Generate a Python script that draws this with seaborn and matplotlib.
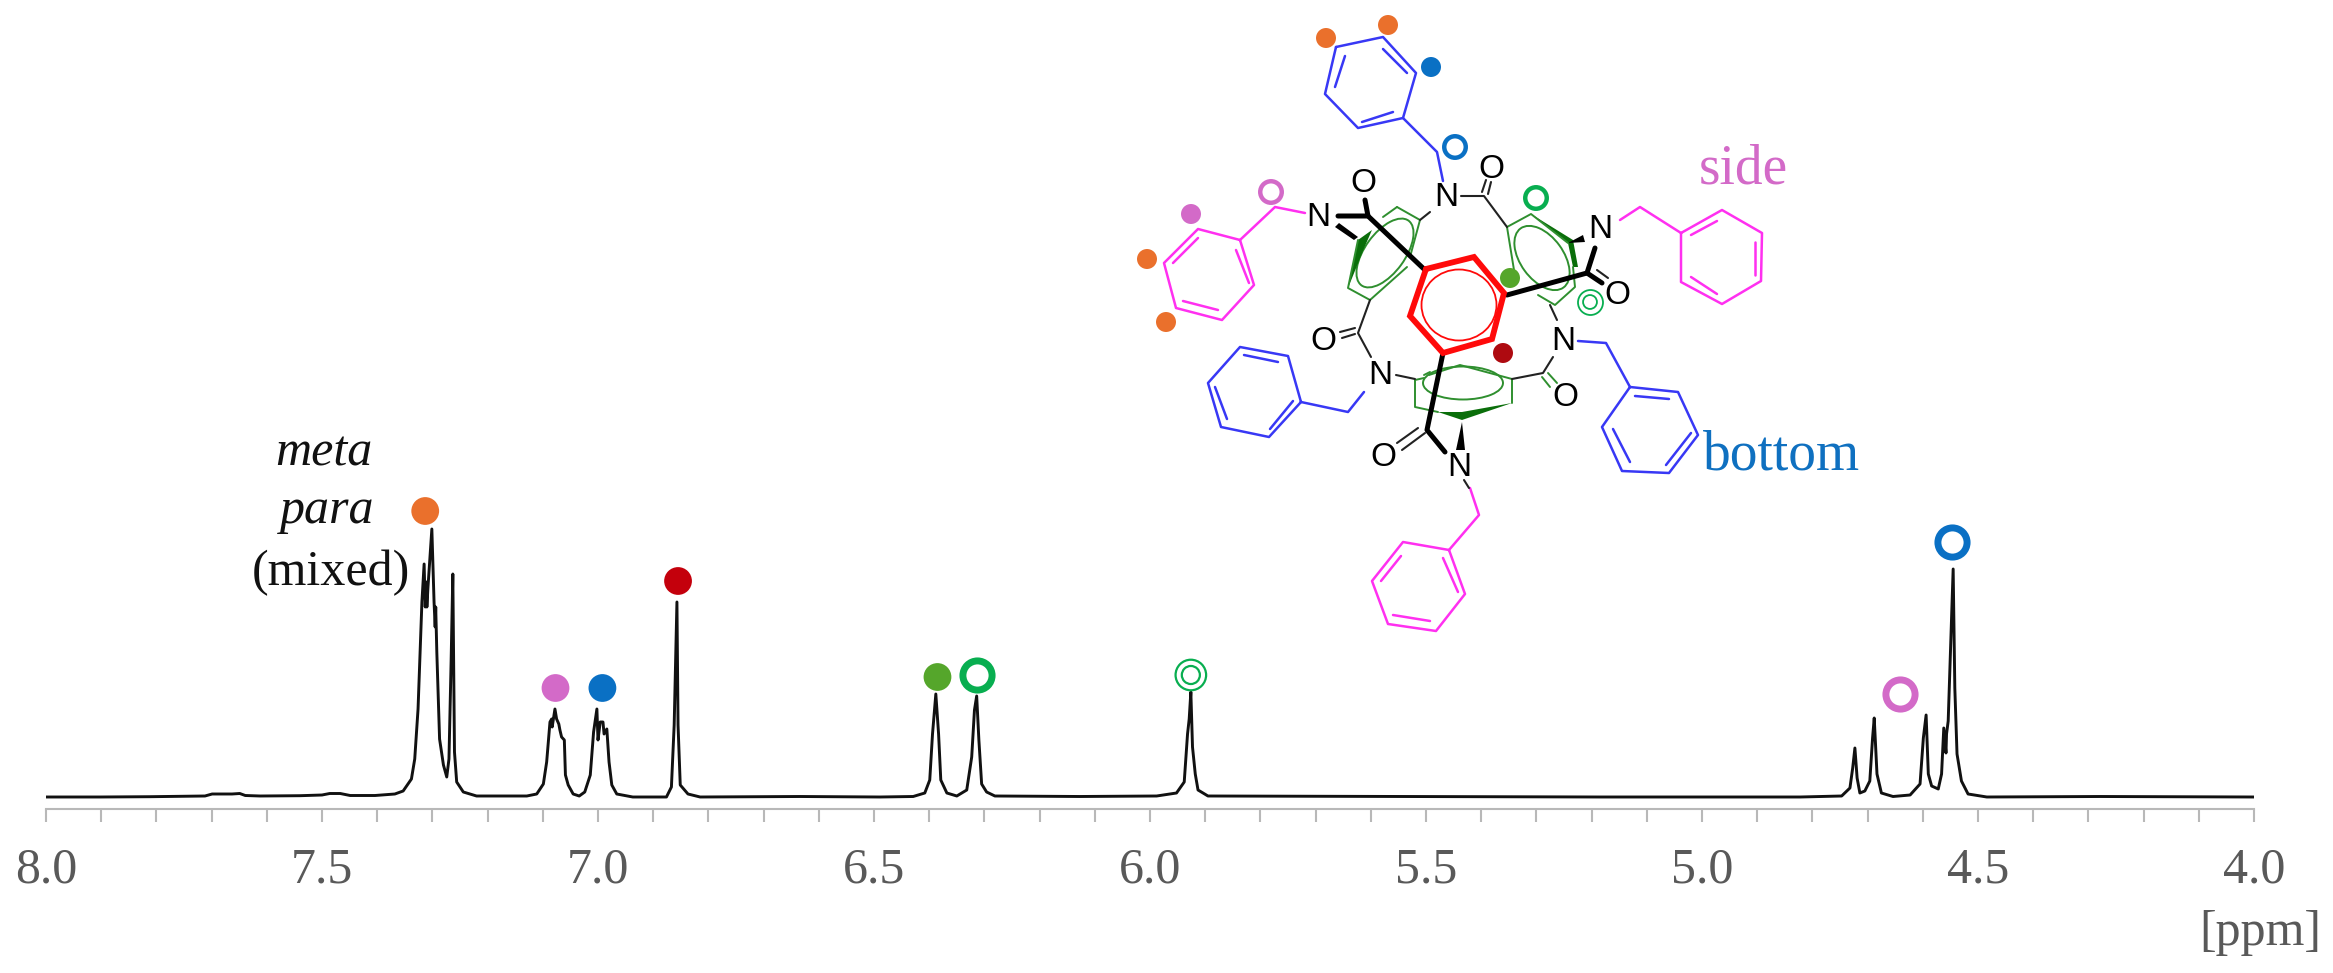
import matplotlib
matplotlib.use('Agg')
import matplotlib.pyplot as plt
from matplotlib.patches import Ellipse, Polygon
import pandas as pd
import seaborn as sns

# spectrum trace
ppm = [8.000, 7.902, 7.812, 7.712, 7.699, 7.681, 7.663, 7.649, 7.639, 7.612, 7.540, 7.500, 7.486, 7.467,
       7.449, 7.404, 7.368, 7.353, 7.338, 7.332, 7.326, 7.319, 7.315, 7.313, 7.311, 7.310, 7.308, 7.301,
       7.297, 7.295, 7.294, 7.292, 7.287, 7.280, 7.274, 7.270, 7.266, 7.263, 7.260, 7.256, 7.244, 7.220,
       7.129, 7.111, 7.099, 7.093, 7.087, 7.084, 7.083, 7.078, 7.075, 7.071, 7.069, 7.066, 7.061, 7.059,
       7.054, 7.045, 7.034, 7.024, 7.014, 7.008, 7.002, 7.000, 6.996, 6.991, 6.989, 6.984, 6.980, 6.975,
       6.966, 6.937, 6.876, 6.867, 6.862, 6.857, 6.855, 6.851, 6.837, 6.815, 6.634, 6.489, 6.429, 6.408,
       6.399, 6.394, 6.388, 6.383, 6.379, 6.368, 6.350, 6.332, 6.323, 6.318, 6.314, 6.310, 6.305, 6.296,
       6.281, 6.127, 5.988, 5.952, 5.938, 5.932, 5.929, 5.926, 5.923, 5.918, 5.913, 5.895, 5.547, 5.185,
       4.822, 4.747, 4.732, 4.727, 4.723, 4.719, 4.714, 4.705, 4.696, 4.691, 4.688, 4.683, 4.675, 4.654,
       4.623, 4.605, 4.599, 4.594, 4.590, 4.584, 4.572, 4.566, 4.562, 4.558, 4.557, 4.554, 4.545, 4.542,
       4.538, 4.530, 4.518, 4.484, 4.279, 4.000]
intensity = [0, 0, 0.3, 1, 3, 3, 3, 3.5, 1.5, 1, 1.3, 2, 3.5, 3.5,
             1.5, 1.5, 3, 6, 18, 38, 88, 195, 233, 190, 215, 190, 210, 268,
             195, 170, 190, 145, 58, 32, 20, 38, 138, 223, 45, 15, 5, 1,
             1, 3, 13, 35, 75, 78, 70, 88, 78, 73, 67, 60, 57, 22,
             12, 3, 1, 5, 22, 65, 88, 57, 75, 75, 63, 68, 35, 12,
             3, 0, 0, 10, 72, 195, 72, 12, 3, 0, 0.5, 0, 0.5, 4,
             17, 63, 103, 63, 17, 4, 1, 7, 40, 87, 101, 57, 13, 5,
             1, 0.5, 1, 4, 15, 63, 78, 105, 50, 23, 7, 1, 0.5, 0,
             0, 1, 9, 29, 49, 19, 4, 6, 16, 59, 79, 23, 4, 0.5,
             2, 13, 59, 82, 23, 11, 8, 23, 69, 44, 63, 76, 228, 109,
             43, 16, 3, 0, 0.5, 0]

major_ticks = [8.0, 7.5, 7.0, 6.5, 6.0, 5.5, 5.0, 4.5, 4.0]
major_labels = ['8.0', '7.5', '7.0', '6.5', '6.0', '5.5', '5.0', '4.5', '4.0']
minor_ticks = [7.9, 7.8, 7.7, 7.6, 7.4, 7.3, 7.2, 7.1, 6.9, 6.8, 6.7, 6.6, 6.4, 6.3, 6.2, 6.1,
               5.9, 5.8, 5.7, 5.6, 5.4, 5.3, 5.2, 5.1, 4.9, 4.8, 4.7, 4.6, 4.4, 4.3, 4.2, 4.1]

# peak assignment symbols above the spectrum
dot_ppm = [7.313, 7.077, 6.992, 6.855, 6.385]
dot_height = [286, 109, 109, 216, 120]
dot_color = ['#EA702C', '#D36AC8', '#0A70C4', '#C4000C', '#55A62B']
ring_ppm = [6.314, 4.642, 4.547]
ring_height = [122, 103, 255]
ring_color = ['#08AE50', '#D36AC8', '#0A70C4']
double_ppm = [5.926]
double_height = [122]

# molecule drawing, in picture pixels
blue_bonds = [
    # top benzyl
    [(1403, 118), (1437, 152), (1443, 181)],
    [(1336, 47), (1383, 37), (1416, 73), (1403, 118), (1358, 128), (1325, 94), (1336, 47)],
    [(1345, 56), (1335, 87)], [(1383, 49), (1407, 73)], [(1362, 122), (1393, 112)],
    # lower right benzyl
    [(1578, 341), (1606, 343), (1630, 387)],
    [(1630, 387), (1678, 392), (1698, 435), (1669, 473), (1622, 471), (1602, 427), (1630, 387)],
    [(1635, 396), (1669, 399)], [(1691, 433), (1666, 465)], [(1630, 462), (1613, 429)],
    # lower left benzyl
    [(1364, 392), (1348, 412), (1301, 402)],
    [(1301, 402), (1269, 437), (1221, 427), (1208, 383), (1240, 347), (1288, 356), (1301, 402)],
    [(1293, 401), (1270, 429)], [(1227, 419), (1215, 387)], [(1244, 355), (1278, 362)],
]
pink_bonds = [
    # right benzyl
    [(1620, 220), (1640, 207), (1681, 233)],
    [(1681, 233), (1722, 210), (1762, 233), (1761, 281), (1722, 304), (1681, 282), (1681, 233)],
    [(1691, 235), (1717, 221)], [(1755, 242), (1755, 275)], [(1691, 277), (1717, 294)],
    # bottom benzyl
    [(1470, 488), (1479, 515), (1449, 550)],
    [(1449, 550), (1403, 542), (1372, 581), (1388, 624), (1436, 631), (1465, 594), (1449, 550)],
    [(1443, 558), (1458, 592)], [(1430, 621), (1393, 615)], [(1381, 581), (1401, 556)],
    # left benzyl
    [(1305, 213), (1275, 207), (1240, 240)],
    [(1240, 240), (1198, 229), (1164, 263), (1176, 308), (1222, 320), (1254, 285), (1240, 240)],
    [(1198, 238), (1173, 263)], [(1183, 301), (1218, 310)], [(1236, 250), (1249, 283)],
]
green_bonds = [
    # upper right ring
    [(1507, 227), (1531, 214), (1568, 243)], [(1507, 227), (1514, 270)],
    [(1573, 267), (1575, 287), (1555, 305), (1538, 295)],
    # lower ring
    [(1429, 375), (1460, 365), (1512, 379), (1512, 403)], [(1415, 380), (1415, 407), (1438, 412)],
    [(1415, 380), (1424, 378)], [(1424, 375), (1430, 372)],
    # upper left ring
    [(1370, 300), (1348, 288), (1358, 240)], [(1370, 300), (1407, 267)],
    [(1397, 207), (1420, 220), (1410, 257)], [(1397, 207), (1383, 217)],
    # carbonyl by the lower ring
    [(1542, 377), (1550, 387)], [(1548, 373), (1557, 383)],
]
black_bonds = [
    [(1461, 196), (1484, 196), (1507, 227)], [(1482, 192), (1486, 180)], [(1488, 194), (1491, 182)],
    [(1550, 305), (1557, 320)], [(1553, 357), (1543, 373), (1512, 379)],
    [(1396, 375), (1415, 379)], [(1371, 357), (1358, 333), (1370, 300)],
    [(1340, 332), (1355, 328)], [(1342, 338), (1355, 334)],
    [(1420, 220), (1430, 212)], [(1597, 270), (1608, 278)],
    [(1425, 433), (1402, 450)], [(1418, 428), (1397, 443)],
    [(1469, 488), (1464, 480)],
]
bold_bonds = [
    [(1425, 270), (1368, 216), (1338, 216)], [(1365, 200), (1368, 216)],
    [(1507, 295), (1587, 273), (1595, 248)], [(1587, 273), (1602, 283)],
    [(1443, 353), (1427, 430), (1445, 452)],
]
black_wedges = [
    [(1335, 227), (1339, 223), (1358, 237), (1354, 240)],
    [(1568, 243), (1583, 235), (1585, 242)],
    [(1462, 422), (1456, 450), (1465, 450)],
]
green_wedges = [
    [(1348, 288), (1358, 240), (1372, 230), (1365, 246)],
    [(1531, 214), (1568, 243), (1573, 267), (1578, 267), (1573, 240)],
    [(1438, 412), (1462, 420), (1512, 403), (1462, 412)],
]
red_ring = [(1426, 269), (1474, 257), (1504, 293), (1492, 339), (1443, 353), (1410, 316), (1426, 269)]

# centre x, centre y, width, height, angle
green_loops = [(1542, 258, 73, 43, 54), (1463, 383, 80, 33, 0), (1385, 253, 80, 40, -54)]
red_loop = (1459, 305, 75, 71, 0)

nitrogen_x = [1446, 1600, 1563, 1459, 1380, 1318]
nitrogen_y = [198, 230, 341, 467, 376, 218]
oxygen_x = [1491, 1617, 1565, 1383, 1323, 1363]
oxygen_y = [169, 296, 398, 457, 342, 183]

mol_dot_x = [1326, 1388, 1147, 1166, 1431, 1191, 1510, 1503]
mol_dot_y = [38, 25, 259, 322, 67, 214, 278, 353]
mol_dot_color = ['#EA702C', '#EA702C', '#EA702C', '#EA702C', '#0A70C4', '#D36AC8', '#55A62B', '#AE0A10']
mol_ring_x = [1455, 1271, 1536]
mol_ring_y = [147, 192, 198]
mol_ring_color = ['#0A70C4', '#D36AC8', '#08AE50']

sns.set_style('white')
plt.rcParams['font.family'] = ['Liberation Serif', 'DejaVu Serif']

fig = plt.figure(figsize=(23.33, 9.73), dpi=100)
ax = fig.add_axes([46 / 2333, (973 - 809) / 973, (2254 - 46) / 2333, 809 / 973])

spectrum = pd.DataFrame({'ppm': ppm, 'intensity': intensity})
sns.lineplot(data=spectrum, x='ppm', y='intensity', estimator=None, sort=False,
             color='#111111', linewidth=2.1, ax=ax)

dots = pd.DataFrame({'ppm': dot_ppm, 'h': dot_height, 'c': dot_color})
sns.scatterplot(data=dots, x='ppm', y='h', hue='c', palette=dict(zip(dot_color, dot_color)),
                s=400, linewidth=0, legend=False, ax=ax, zorder=3)
rings = pd.DataFrame({'ppm': ring_ppm, 'h': ring_height, 'c': ring_color})
for c, group in rings.groupby('c'):
    sns.scatterplot(data=group, x='ppm', y='h', s=441, facecolor='white', edgecolor=c,
                    linewidth=5, legend=False, ax=ax, zorder=3)
for size in [484, 169]:
    sns.scatterplot(x=double_ppm, y=double_height, s=size, facecolor='none', edgecolor='#08AE50',
                    linewidth=1.6, legend=False, ax=ax, zorder=3)

ax.set_xlim(8.0, 4.0)
ax.set_ylim(-12, 797)
ax.set_xticks(major_ticks)
ax.set_xticklabels(major_labels)
ax.set_xticks(minor_ticks, minor=True)
ax.set_yticks([])
ax.set_xlabel('')
ax.set_ylabel('')
sns.despine(ax=ax, left=True)
ax.spines['bottom'].set_color('#b8b8b8')
ax.spines['bottom'].set_linewidth(1.5)
ax.tick_params(axis='x', which='both', direction='out', bottom=True, length=9.4, width=1.5,
               color='#b8b8b8')
ax.tick_params(axis='x', which='major', labelsize=36, labelcolor='#595959', pad=18)
ax.patch.set_alpha(0)

# overlay for the molecule and the free text, in picture pixels
mol = fig.add_axes([0, 0, 1, 1], zorder=5)
mol.set_xlim(0, 2333)
mol.set_ylim(973, 0)
mol.axis('off')


def draw_bonds(bonds, color, width):
    for bond in bonds:
        mol.plot([p[0] for p in bond], [p[1] for p in bond], color=color, lw=width,
                 solid_capstyle='round', solid_joinstyle='round')


draw_bonds(blue_bonds, '#3838F5', 1.8)
draw_bonds(pink_bonds, '#FF30F0', 1.8)
draw_bonds(green_bonds, '#2F8F2F', 1.4)
draw_bonds(black_bonds, '#222222', 1.5)

for cx, cy, w, h, angle in green_loops:
    mol.add_patch(Ellipse((cx, cy), w, h, angle=angle, fill=False, edgecolor='#2F8F2F', lw=1.4))
for wedge in green_wedges:
    mol.add_patch(Polygon(wedge, closed=True, color='#0A6E0A', lw=0))

draw_bonds(bold_bonds, '#000000', 3.6)
for wedge in black_wedges:
    mol.add_patch(Polygon(wedge, closed=True, color='#000000', lw=0))

mol.plot([p[0] for p in red_ring], [p[1] for p in red_ring], color='#FF0A0A', lw=4.2,
         solid_joinstyle='miter')
mol.add_patch(Ellipse(red_loop[:2], red_loop[2], red_loop[3], angle=red_loop[4], fill=False,
                      edgecolor='#FF0A0A', lw=1.3))

for x, y in zip(nitrogen_x, nitrogen_y):
    mol.text(x, y, 'N', fontsize=24, family='Liberation Sans', color='black', ha='center', va='center')
for x, y in zip(oxygen_x, oxygen_y):
    mol.text(x, y, 'O', fontsize=24, family='Liberation Sans', color='black', ha='center', va='center')

mol.scatter(mol_dot_x, mol_dot_y, s=207, c=mol_dot_color, linewidths=0, zorder=4)
mol.scatter(mol_ring_x, mol_ring_y, s=240, facecolors='white', edgecolors=mol_ring_color, linewidths=3.2, zorder=4)
mol.scatter([1590], [302], s=324, facecolors='white', edgecolors='#08AE50', linewidths=1.3, zorder=4)
mol.scatter([1590], [302], s=100, facecolors='none', edgecolors='#08AE50', linewidths=1.3, zorder=4)

mol.text(275, 465, 'meta', fontsize=36, style='italic', color='#111111', va='baseline')
mol.text(280, 523, 'para', fontsize=36, style='italic', color='#111111', va='baseline')
mol.text(252, 585, '(mixed)', fontsize=36, color='#111111', va='baseline')
mol.text(1699, 184, 'side', fontsize=40, color='#D36AC8', va='baseline')
mol.text(1703, 470, 'bottom', fontsize=40, color='#0F70C0', va='baseline')
mol.text(2260, 945, '[ppm]', fontsize=36, color='#595959', ha='center', va='baseline')

fig.savefig('out.png', dpi=100, facecolor='white')
